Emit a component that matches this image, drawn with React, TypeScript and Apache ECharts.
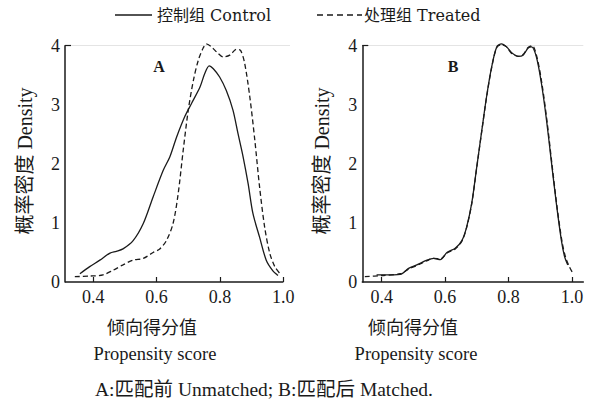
import React, { useEffect, useRef } from "react";
import * as echarts from "echarts";

// Panel A (unmatched): [propensity score, density]
const controlA: number[][] = [
  [0.358, 0.14], [0.389, 0.26], [0.421, 0.37], [0.453, 0.49], [0.473, 0.52],
  [0.494, 0.56], [0.526, 0.70], [0.558, 0.99], [0.589, 1.44], [0.621, 1.89],
  [0.642, 2.12], [0.663, 2.45], [0.689, 2.80], [0.711, 3.03], [0.737, 3.30],
  [0.752, 3.53], [0.766, 3.66], [0.779, 3.61], [0.799, 3.47], [0.820, 3.24],
  [0.841, 2.91], [0.857, 2.51], [0.873, 2.12], [0.889, 1.66], [0.904, 1.16],
  [0.925, 0.76], [0.946, 0.37], [0.967, 0.19], [0.983, 0.11],
];
const treatedA: number[][] = [
  [0.342, 0.09], [0.388, 0.10], [0.431, 0.12], [0.463, 0.20], [0.494, 0.29],
  [0.526, 0.37], [0.558, 0.40], [0.589, 0.50], [0.610, 0.56], [0.631, 0.70],
  [0.652, 0.99], [0.668, 1.49], [0.684, 2.23], [0.700, 2.91], [0.716, 3.41],
  [0.732, 3.76], [0.747, 3.96], [0.757, 4.03], [0.773, 3.98], [0.794, 3.87],
  [0.810, 3.81], [0.831, 3.84], [0.852, 3.94], [0.865, 3.92], [0.878, 3.70],
  [0.894, 3.14], [0.910, 2.40], [0.925, 1.61], [0.941, 0.93], [0.957, 0.49],
  [0.973, 0.26], [0.988, 0.15],
];
// Panel B (matched)
const controlB: number[][] = [
  [0.384, 0.12], [0.406, 0.12], [0.459, 0.13], [0.485, 0.23], [0.511, 0.29],
  [0.543, 0.37], [0.564, 0.40], [0.585, 0.38], [0.606, 0.50], [0.632, 0.57],
  [0.653, 0.70], [0.668, 0.93], [0.684, 1.33], [0.700, 1.95], [0.716, 2.57],
  [0.731, 3.14], [0.747, 3.64], [0.763, 3.98], [0.778, 4.03], [0.794, 3.98],
  [0.810, 3.88], [0.831, 3.82], [0.846, 3.84], [0.862, 3.96], [0.873, 3.98],
  [0.888, 3.81], [0.904, 3.36], [0.920, 2.74], [0.935, 2.05], [0.951, 1.33],
  [0.967, 0.70], [0.977, 0.43], [0.987, 0.29],
];
const treatedB: number[][] = [
  [0.347, 0.09], [0.400, 0.11], [0.459, 0.14], [0.485, 0.22], [0.511, 0.28],
  [0.543, 0.36], [0.564, 0.40], [0.585, 0.39], [0.606, 0.49], [0.632, 0.56],
  [0.653, 0.69], [0.668, 0.92], [0.684, 1.32], [0.700, 1.94], [0.716, 2.56],
  [0.731, 3.13], [0.747, 3.63], [0.763, 3.97], [0.778, 4.02], [0.794, 3.98],
  [0.810, 3.87], [0.831, 3.82], [0.846, 3.85], [0.862, 3.97], [0.875, 4.00],
  [0.890, 3.80], [0.906, 3.34], [0.922, 2.70], [0.937, 2.00], [0.953, 1.28],
  [0.969, 0.68], [0.980, 0.42], [0.992, 0.26], [1.003, 0.15],
];

const xTicks = [0.4, 0.6, 0.8, 1.0];
const yTickTop = [4];
const legendNames = ["控制组 Control", "处理组 Treated"];
const panelLabels = ["A", "B"];
const yName = "概率密度 Density";
const xNameCn = "倾向得分值";
const xNameEn = "Propensity score";
const caption = "A:匹配前 Unmatched; B:匹配后 Matched.";

const FONT = "'Liberation Serif', 'Noto Sans CJK SC', serif";
const LEGEND_FONT = "'DejaVu Serif', 'Noto Sans CJK SC', serif";
const INK = "#1a1a1a";

function txt(text: string, x: number, y: number, size: number, align = "center", extra: any = {}) {
  const { bold, family, ...rest } = extra;
  return {
    type: "text",
    x,
    y,
    ...rest,
    style: {
      text,
      fontSize: size,
      fontFamily: family || FONT,
      fontWeight: bold ? "bold" : "normal",
      fill: INK,
      align,
      textAlign: align,
      verticalAlign: "middle",
      textVerticalAlign: "middle",
    },
  };
}

export default function App() {
  const ref = useRef<HTMLDivElement>(null);
  useEffect(() => {
    if (!ref.current) return;
    const chart = echarts.init(ref.current, null, { renderer: "svg" });
    const xAxisBase = (gridIndex: number, min: number, max: number, showLine: boolean) => ({
      type: "value",
      gridIndex,
      min,
      max,
      axisLine: { show: showLine, onZero: false, lineStyle: { color: INK, width: 1.5 } },
      axisTick: { show: true, inside: true, length: 5, customValues: xTicks, lineStyle: { color: INK, width: 1.2 } },
      axisLabel: {
        show: true,
        customValues: xTicks,
        formatter: (v: number) => v.toFixed(1),
        fontSize: 18,
        fontFamily: FONT,
        color: INK,
        margin: 6,
      },
      splitLine: { show: false },
    });
    const yAxisBase = (gridIndex: number) => ({
      type: "value",
      gridIndex,
      min: 0,
      max: 4,
      interval: 1,
      axisLine: { show: true, lineStyle: { color: INK, width: 1.5 } },
      axisTick: { show: true, inside: true, length: 6, customValues: yTickTop, lineStyle: { color: INK, width: 1.2 } },
      axisLabel: { fontSize: 18, fontFamily: FONT, color: INK, margin: 5 },
      splitLine: { show: true, lineStyle: { color: "#e4e4e4", width: 1 } },
    });
    const lineSeries = (name: string, data: number[][], idx: number, dashed: boolean) => ({
      type: "line",
      name,
      data,
      xAxisIndex: idx,
      yAxisIndex: idx,
      showSymbol: false,
      symbol: "none",
      smooth: 0.3,
      clip: false,
      lineStyle: { color: INK, width: 1.3, type: dashed ? [5, 3] : "solid" },
      z: dashed ? 3 : 4,
    });
    chart.setOption({
      animation: false,
      backgroundColor: "#ffffff",
      grid: [
        { left: 65, top: 45.7, width: 225, height: 236.3 },
        { left: 362.3, top: 45.7, width: 221, height: 236.3 },
      ],
      xAxis: [xAxisBase(0, 0.311, 1.021, false), xAxisBase(1, 0.339, 1.036, true)],
      yAxis: [yAxisBase(0), yAxisBase(1)],
      series: [
        lineSeries(legendNames[0], controlA, 0, false),
        lineSeries(legendNames[1], treatedA, 0, true),
        lineSeries(legendNames[0], controlB, 1, false),
        lineSeries(legendNames[1], treatedB, 1, true),
      ],
      graphic: [
        // panel A x-axis baseline, ending at the 1.0 tick as in the reference
        { type: "line", z: 10, shape: { x1: 65, y1: 282, x2: 283.4, y2: 282 }, style: { stroke: INK, lineWidth: 1.5 } },
        { type: "line", shape: { x1: 115, y1: 15, x2: 152, y2: 15 }, style: { stroke: INK, lineWidth: 1.5 } },
        txt(legendNames[0], 157, 15, 16, "left", { family: LEGEND_FONT }),
        { type: "line", shape: { x1: 317, y1: 15, x2: 362, y2: 15 }, style: { stroke: INK, lineWidth: 1.5, lineDash: [6, 4] } },
        txt(legendNames[1], 364, 15, 16, "left", { family: LEGEND_FONT }),
        txt(panelLabels[0], 159, 66, 16, "center", { bold: true }),
        txt(panelLabels[1], 453, 66, 16, "center", { bold: true }),
        txt(yName, 25, 161, 20, "center", { rotation: Math.PI / 2 }),
        txt(yName, 322, 161, 20, "center", { rotation: Math.PI / 2 }),
        txt(xNameCn, 152, 328, 18),
        txt(xNameEn, 155, 354, 18.5),
        txt(xNameCn, 413, 328, 18),
        txt(xNameEn, 416, 354, 18.5),
        txt(caption, 264, 389, 19.5),
      ],
    });
    return () => chart.dispose();
  }, []);
  return (
    <div
      ref={ref}
      style={{ position: "fixed", left: 0, top: 0, width: 594, height: 402, background: "#fff" }}
    />
  );
}
